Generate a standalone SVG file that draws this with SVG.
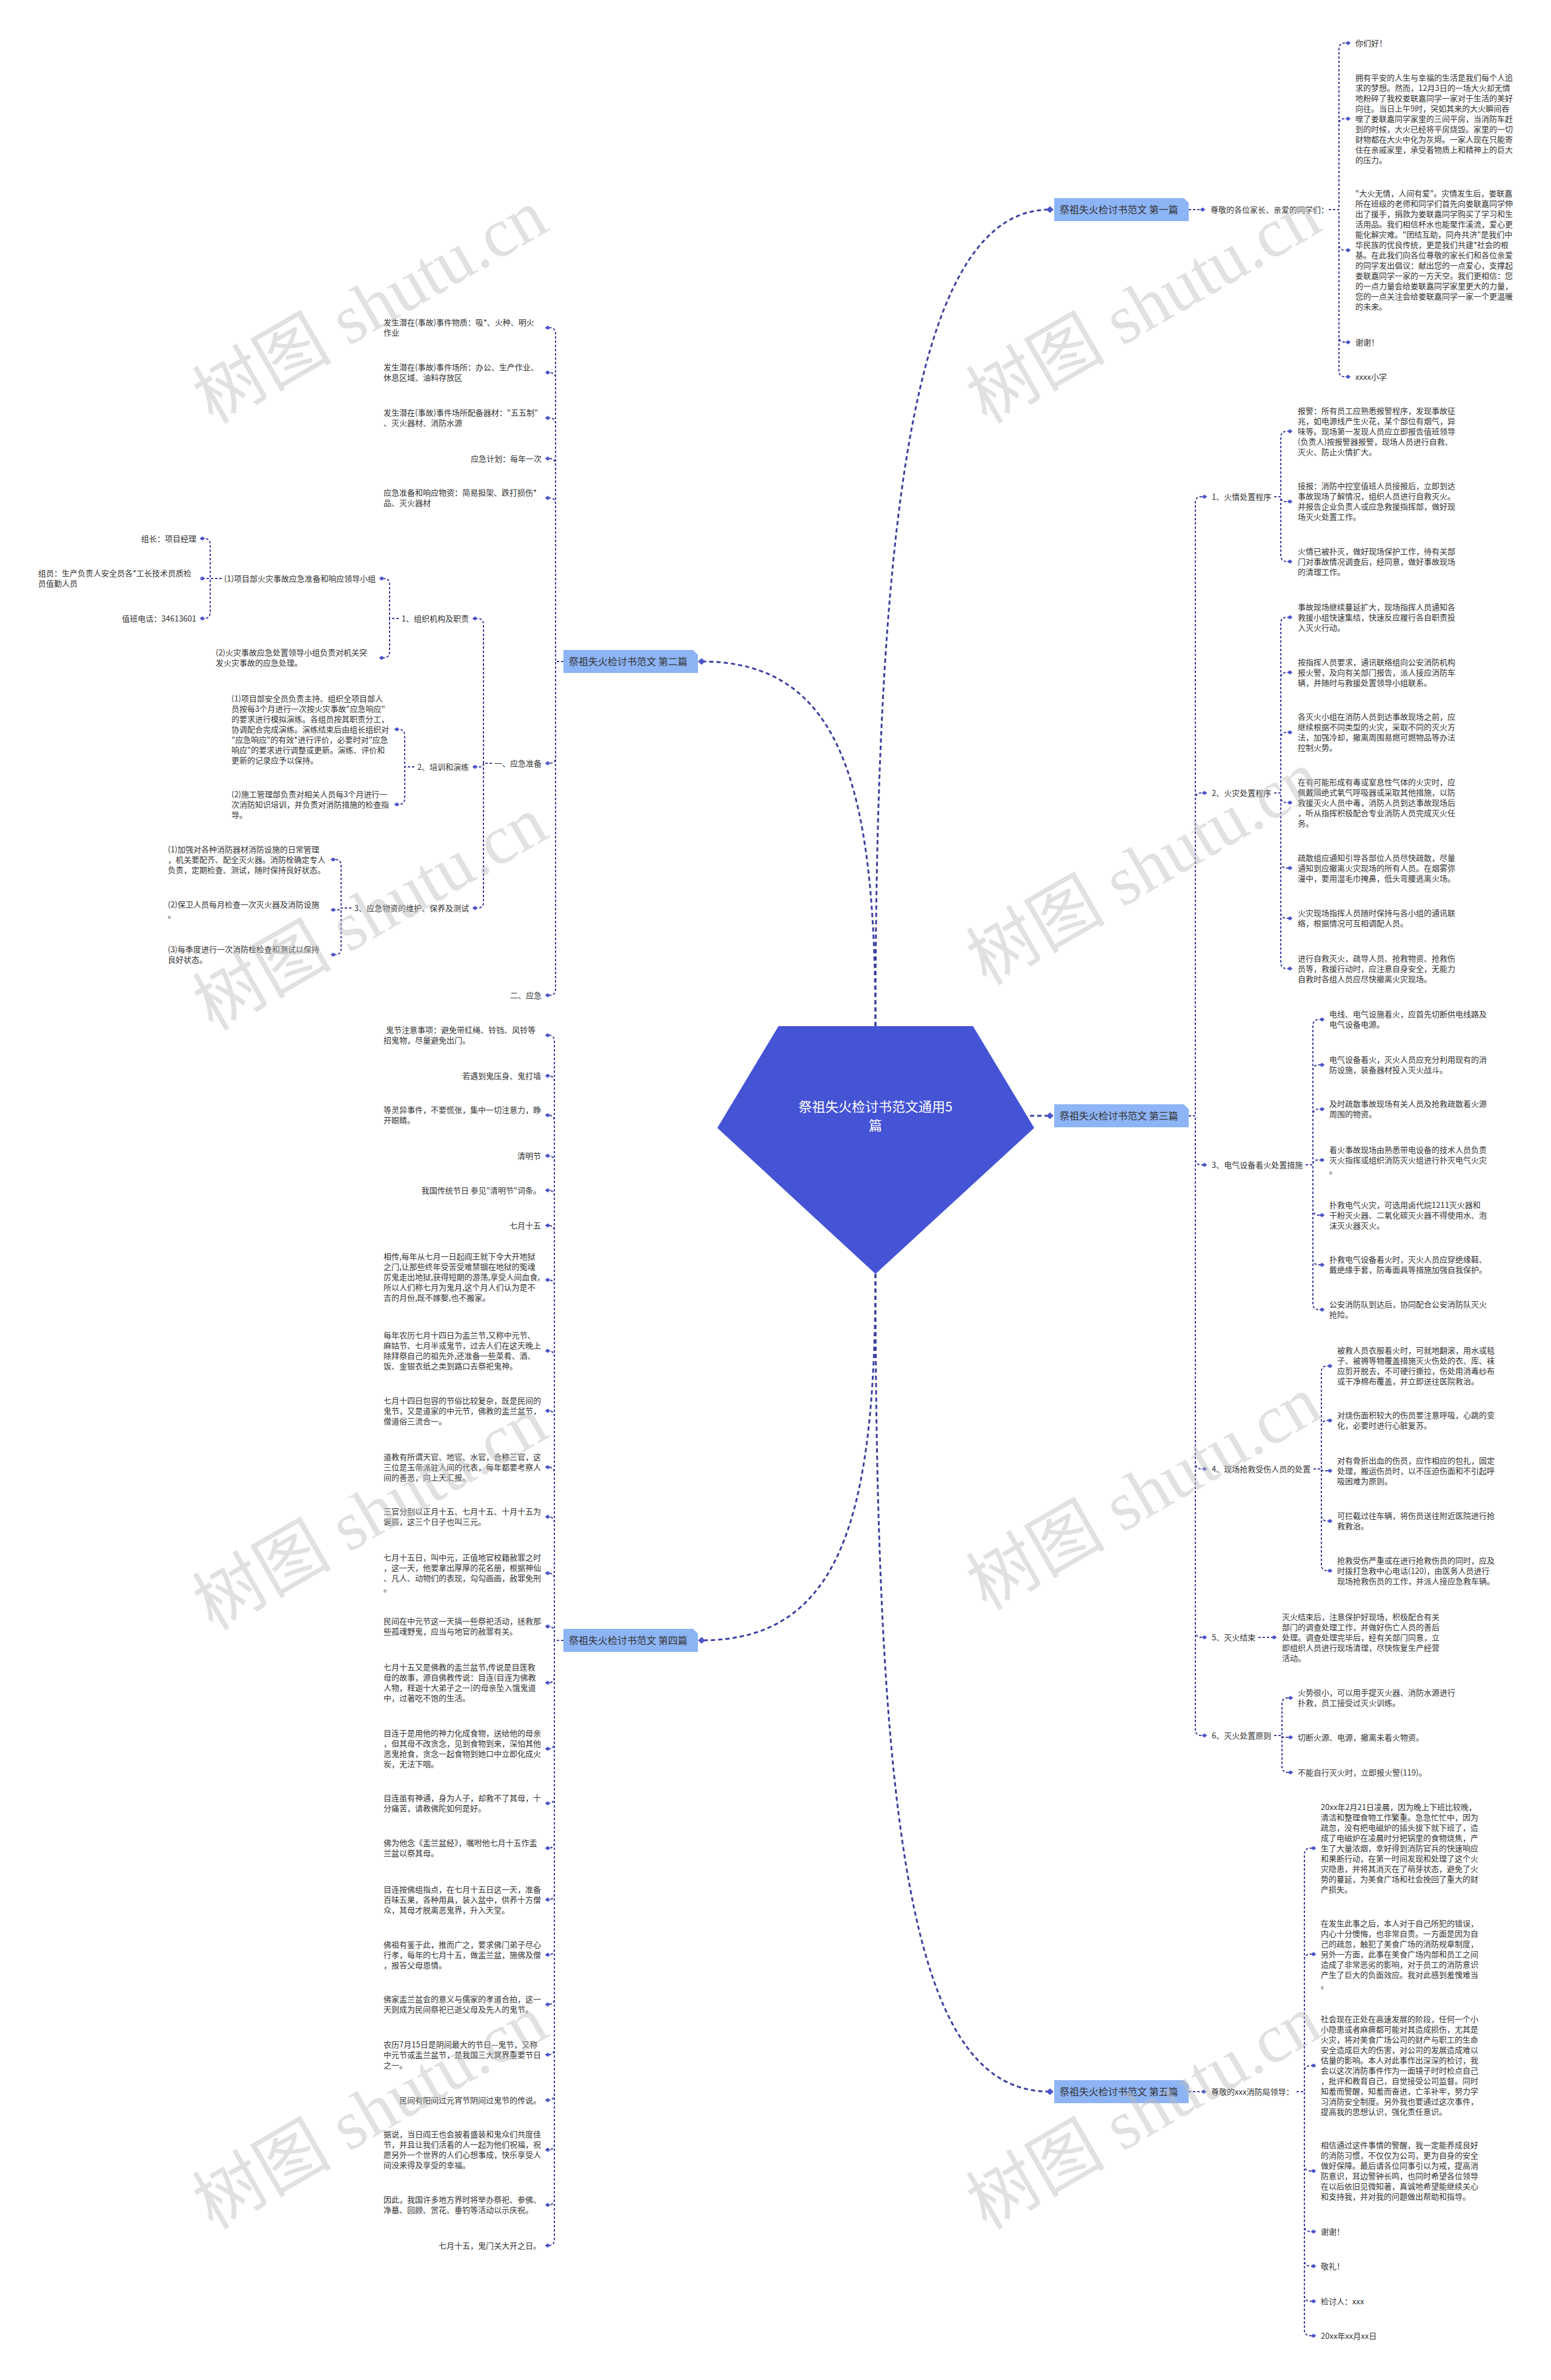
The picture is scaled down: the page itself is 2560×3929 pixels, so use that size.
<svg xmlns="http://www.w3.org/2000/svg" width="2560" height="3929" viewBox="0 0 2560 3929">
<defs>
<style>
.t{font-family:"Noto Sans CJK SC","Noto Sans",sans-serif;font-size:13px;fill:#333}
.e{text-anchor:end}
.n1{font-family:"Noto Sans CJK SC","Noto Sans",sans-serif;font-size:16px;fill:#333}
.nb{fill:#8db4f5}
.c{fill:none;stroke:#3b3f9f;stroke-width:2;stroke-dasharray:4 3;marker-end:url(#dm)}
.cm{fill:none;stroke:#3b3f9f;stroke-width:3;stroke-dasharray:7 5;marker-end:url(#dmL)}
.wm{font-family:"Liberation Serif","Noto Sans CJK SC",serif;font-size:115px;fill:#bdbdbd;opacity:0.45}
</style>
<marker id="dm" viewBox="-5 -4 10 8" markerWidth="10" markerHeight="8" refX="0" refY="0" orient="auto" markerUnits="userSpaceOnUse"><path d="M-4.5 0L0 -3.5L4.5 0L0 3.5Z" fill="#4c54c9"/></marker>
<marker id="dmL" viewBox="-7 -6 14 12" markerWidth="14" markerHeight="12" refX="0" refY="0" orient="auto" markerUnits="userSpaceOnUse"><path d="M-6 0L0 -5.5L6 0L0 5.5Z" fill="#4c54c9"/></marker>
</defs>
<rect width="2560" height="3929" fill="#fff"/>

<g id="connectors">
<path class="cm" d="M1445 1694C1445 800 1520 346 1733 346"/>
<path class="cm" d="M1445 1694C1445 1300 1390 1092 1158 1092"/>
<path class="cm" d="M1700 1842H1733"/>
<path class="cm" d="M1445 2103C1445 2500 1390 2708 1158 2708"/>
<path class="cm" d="M1445 2103C1445 3100 1520 3453 1733 3453"/>

<path class="c" d="M1962 346H1985"/>
<path class="c" d="M2193 346H2210V81Q2210 71 2220 71H2225"/>
<path class="c" d="M2193 346H2210V206Q2210 196 2220 196H2225"/>
<path class="c" d="M2193 346H2210V403Q2210 413 2220 413H2225"/>
<path class="c" d="M2193 346H2210V555Q2210 565 2220 565H2225"/>
<path class="c" d="M2193 346H2210V612Q2210 622 2220 622H2225"/>

<path class="c" d="M1962 1842H1973V830Q1973 820 1983 820H1988"/>
<path class="c" d="M1962 1842H1973V1319Q1973 1309 1983 1309H1988"/>
<path class="c" d="M1962 1842H1973V1913Q1973 1923 1983 1923H1988"/>
<path class="c" d="M1962 1842H1973V2415Q1973 2425 1983 2425H1988"/>
<path class="c" d="M1962 1842H1973V2693Q1973 2703 1983 2703H1988"/>
<path class="c" d="M1962 1842H1973V2855Q1973 2865 1983 2865H1988"/>

<path class="c" d="M2103 820H2114V722Q2114 712 2124 712H2129"/>
<path class="c" d="M2103 820H2114Q2114 828 2122 828H2129"/>
<path class="c" d="M2103 820H2114V917Q2114 927 2124 927H2129"/>

<path class="c" d="M2103 1309H2114V1029Q2114 1019 2124 1019H2129"/>
<path class="c" d="M2103 1309H2114V1120Q2114 1110 2124 1110H2129"/>
<path class="c" d="M2103 1309H2114V1219Q2114 1209 2124 1209H2129"/>
<path class="c" d="M2103 1309H2114V1315Q2114 1325 2124 1325H2129"/>
<path class="c" d="M2103 1309H2114V1423Q2114 1433 2124 1433H2129"/>
<path class="c" d="M2103 1309H2114V1506Q2114 1516 2124 1516H2129"/>
<path class="c" d="M2103 1309H2114V1589Q2114 1599 2124 1599H2129"/>

<path class="c" d="M2155 1923H2167V1693Q2167 1683 2177 1683H2182"/>
<path class="c" d="M2155 1923H2167V1768Q2167 1758 2177 1758H2182"/>
<path class="c" d="M2155 1923H2167V1841Q2167 1831 2177 1831H2182"/>
<path class="c" d="M2155 1923H2167Q2167 1915 2175 1915H2182"/>
<path class="c" d="M2155 1923H2167V1996Q2167 2006 2177 2006H2182"/>
<path class="c" d="M2155 1923H2167V2078Q2167 2088 2177 2088H2182"/>
<path class="c" d="M2155 1923H2167V2152Q2167 2162 2177 2162H2182"/>

<path class="c" d="M2168 2425H2181V2265Q2181 2255 2191 2255H2195"/>
<path class="c" d="M2168 2425H2181V2355Q2181 2345 2191 2345H2195"/>
<path class="c" d="M2168 2425H2181Q2181 2428 2184 2428H2195"/>
<path class="c" d="M2168 2425H2181V2501Q2181 2511 2191 2511H2195"/>
<path class="c" d="M2168 2425H2181V2583Q2181 2593 2191 2593H2195"/>

<path class="c" d="M2077 2703H2103"/>

<path class="c" d="M2103 2865H2116V2813Q2116 2803 2126 2803H2130"/>
<path class="c" d="M2103 2865H2116Q2116 2868 2119 2868H2130"/>
<path class="c" d="M2103 2865H2116V2916Q2116 2926 2126 2926H2130"/>

<path class="c" d="M1962 3453H1987"/>
<path class="c" d="M2140 3453H2153V3061Q2153 3051 2163 3051H2168"/>
<path class="c" d="M2140 3453H2153V3236Q2153 3226 2163 3226H2168"/>
<path class="c" d="M2140 3453H2153V3420Q2153 3410 2163 3410H2168"/>
<path class="c" d="M2140 3453H2153V3574Q2153 3584 2163 3584H2168"/>
<path class="c" d="M2140 3453H2153V3674Q2153 3684 2163 3684H2168"/>
<path class="c" d="M2140 3453H2153V3731Q2153 3741 2163 3741H2168"/>
<path class="c" d="M2140 3453H2153V3789Q2153 3799 2163 3799H2168"/>
<path class="c" d="M2140 3453H2153V3846Q2153 3856 2163 3856H2168"/>

<path class="c" d="M930 1092H917V551Q917 541 907 541H904"/>
<path class="c" d="M930 1092H917V625Q917 615 907 615H904"/>
<path class="c" d="M930 1092H917V700Q917 690 907 690H904"/>
<path class="c" d="M930 1092H917V767Q917 757 907 757H904"/>
<path class="c" d="M930 1092H917V832Q917 822 907 822H904"/>
<path class="c" d="M930 1092H917V1250Q917 1260 907 1260H904"/>
<path class="c" d="M930 1092H917V1633Q917 1643 907 1643H904"/>

<path class="c" d="M812 1260H798V1031Q798 1021 788 1021H784"/>
<path class="c" d="M812 1260H798Q798 1266 792 1266H784"/>
<path class="c" d="M812 1260H798V1489Q798 1499 788 1499H784"/>

<path class="c" d="M658 1021H643V965Q643 955 633 955H630"/>
<path class="c" d="M658 1021H643V1076Q643 1086 633 1086H630"/>

<path class="c" d="M366 955H347V899Q347 889 337 889H334"/>
<path class="c" d="M366 955H334"/>
<path class="c" d="M366 955H347V1011Q347 1021 337 1021H334"/>

<path class="c" d="M684 1266H668V1214Q668 1204 658 1204H655"/>
<path class="c" d="M684 1266H668V1318Q668 1328 658 1328H655"/>

<path class="c" d="M580 1499H563V1429Q563 1419 553 1419H550"/>
<path class="c" d="M580 1499H563Q563 1502 560 1502H550"/>
<path class="c" d="M580 1499H563V1566Q563 1576 553 1576H550"/>

<path class="c" d="M930 2708H915V1719Q915 1709 905 1709H904"/>
<path class="c" d="M930 2708H915V1786Q915 1776 905 1776H904"/>
<path class="c" d="M930 2708H915V1851Q915 1841 905 1841H904"/>
<path class="c" d="M930 2708H915V1918Q915 1908 905 1908H904"/>
<path class="c" d="M930 2708H915V1975Q915 1965 905 1965H904"/>
<path class="c" d="M930 2708H915V2033Q915 2023 905 2023H904"/>
<path class="c" d="M930 2708H915V2123Q915 2113 905 2113H904"/>
<path class="c" d="M930 2708H915V2240Q915 2230 905 2230H904"/>
<path class="c" d="M930 2708H915V2339Q915 2329 905 2329H904"/>
<path class="c" d="M930 2708H915V2432Q915 2422 905 2422H904"/>
<path class="c" d="M930 2708H915V2514Q915 2504 905 2504H904"/>
<path class="c" d="M930 2708H915V2607Q915 2597 905 2597H904"/>
<path class="c" d="M930 2708H915V2695Q915 2685 905 2685H904"/>
<path class="c" d="M930 2708H915V2768Q915 2778 905 2778H904"/>
<path class="c" d="M930 2708H915V2877Q915 2887 905 2887H904"/>
<path class="c" d="M930 2708H915V2967Q915 2977 905 2977H904"/>
<path class="c" d="M930 2708H915V3041Q915 3051 905 3051H904"/>
<path class="c" d="M930 2708H915V3126Q915 3136 905 3136H904"/>
<path class="c" d="M930 2708H915V3217Q915 3227 905 3227H904"/>
<path class="c" d="M930 2708H915V3299Q915 3309 905 3309H904"/>
<path class="c" d="M930 2708H915V3382Q915 3392 905 3392H904"/>
<path class="c" d="M930 2708H915V3457Q915 3467 905 3467H904"/>
<path class="c" d="M930 2708H915V3539Q915 3549 905 3549H904"/>
<path class="c" d="M930 2708H915V3630Q915 3640 905 3640H904"/>
<path class="c" d="M930 2708H915V3697Q915 3707 905 3707H904"/>
</g>

<g id="root">
<path d="M1285 1694H1606L1707 1862L1445 2103L1184 1862Z" fill="#4553d5"/>
<text x="1445" font-family="Noto Sans CJK SC,Noto Sans,sans-serif" font-size="22" fill="#fff" text-anchor="middle"><tspan x="1445" y="1835">祭祖失火检讨书范文通用5</tspan><tspan x="1445" y="1866">篇</tspan></text>
</g>

<g id="p1">
<path class="nb" d="M1740 327H1954L1962 335V365H1740Z"/>
<text class="n1" x="1749" y="351.5">祭祖失火检讨书范文 第一篇</text>
</g>
<g id="p1-a"><text class="t" x="1998" y="350.5">尊敬的各位家长、亲爱的同学们：</text></g>
<g id="p1-a1"><text class="t" x="2237" y="75.5">你们好！</text></g>
<g id="p1-a2"><text class="t" x="2237" y="132.5"><tspan x="2237">拥有平安的人生与幸福的生活是我们每个人追</tspan><tspan x="2237" dy="17">求的梦想。然而，12月3日的一场大火却无情</tspan><tspan x="2237" dy="17">地粉碎了我校娄联嘉同学一家对于生活的美好</tspan><tspan x="2237" dy="17">向往。当日上午9时，突如其来的大火瞬间吞</tspan><tspan x="2237" dy="17">噬了娄联嘉同学家里的三间平房，当消防车赶</tspan><tspan x="2237" dy="17">到的时候，大火已经将平房烧毁。家里的一切</tspan><tspan x="2237" dy="17">财物都在大火中化为灰烬。一家人现在只能寄</tspan><tspan x="2237" dy="17">住在亲戚家里，承受着物质上和精神上的巨大</tspan><tspan x="2237" dy="17">的压力。</tspan></text></g>
<g id="p1-a3"><text class="t" x="2237" y="324"><tspan x="2237">"大火无情，人间有爱"。灾情发生后，娄联嘉</tspan><tspan x="2237" dy="17">所在班级的老师和同学们首先向娄联嘉同学伸</tspan><tspan x="2237" dy="17">出了援手，捐款为娄联嘉同学购买了学习和生</tspan><tspan x="2237" dy="17">活用品。我们相信杯水也能聚作溪流，爱心更</tspan><tspan x="2237" dy="17">能化解灾难。"团结互助，同舟共济"是我们中</tspan><tspan x="2237" dy="17">华民族的优良传统，更是我们共建*社会的根</tspan><tspan x="2237" dy="17">基。在此我们向各位尊敬的家长们和各位亲爱</tspan><tspan x="2237" dy="17">的同学发出倡议：献出您的一点爱心，支撑起</tspan><tspan x="2237" dy="17">娄联嘉同学一家的一方天空。我们更相信：您</tspan><tspan x="2237" dy="17">的一点力量会给娄联嘉同学家里更大的力量，</tspan><tspan x="2237" dy="17">您的一点关注会给娄联嘉同学一家一个更温暖</tspan><tspan x="2237" dy="17">的未来。</tspan></text></g>
<g id="p1-a4"><text class="t" x="2237" y="569.5">谢谢！</text></g>
<g id="p1-a5"><text class="t" x="2237" y="626.5">xxxx小学</text></g>

<g id="p3">
<path class="nb" d="M1740 1823H1954L1962 1831V1861H1740Z"/>
<text class="n1" x="1749" y="1847.5">祭祖失火检讨书范文 第三篇</text>
</g>
<g id="p3-1"><text class="t" x="2000" y="824.5">1、火情处置程序</text></g>
<g id="p3-1a"><text class="t" x="2142" y="682.5"><tspan x="2142">报警：所有员工应熟悉报警程序，发现事故征</tspan><tspan x="2142" dy="17">兆，如电源线产生火花，某个部位有烟气，异</tspan><tspan x="2142" dy="17">味等。现场第一发现人员应立即报告值班领导</tspan><tspan x="2142" dy="17">(负责人)按报警器报警，现场人员进行自救、</tspan><tspan x="2142" dy="17">灭火、防止火情扩大。</tspan></text></g>
<g id="p3-1b"><text class="t" x="2142" y="807"><tspan x="2142">接报：消防中控室值班人员接报后，立即到达</tspan><tspan x="2142" dy="17">事故现场了解情况，组织人员进行自救灭火。</tspan><tspan x="2142" dy="17">并报告企业负责人或应急救援指挥部，做好现</tspan><tspan x="2142" dy="17">场灭火处置工作。</tspan></text></g>
<g id="p3-1c"><text class="t" x="2142" y="914.5"><tspan x="2142">火情已被扑灭，做好现场保护工作，待有关部</tspan><tspan x="2142" dy="17">门对事故情况调查后，经同意，做好事故现场</tspan><tspan x="2142" dy="17">的清理工作。</tspan></text></g>

<g id="p3-2"><text class="t" x="2000" y="1313.5">2、火灾处置程序</text></g>
<g id="p3-2a"><text class="t" x="2142" y="1006.5"><tspan x="2142">事故现场继续蔓延扩大，现场指挥人员通知各</tspan><tspan x="2142" dy="17">救援小组快速集结，快速反应履行各自职责投</tspan><tspan x="2142" dy="17">入灭火行动。</tspan></text></g>
<g id="p3-2b"><text class="t" x="2142" y="1097.5"><tspan x="2142">按指挥人员要求，通讯联络组向公安消防机构</tspan><tspan x="2142" dy="17">报火警，及向有关部门报告，派人接应消防车</tspan><tspan x="2142" dy="17">辆，并随时与救援处置领导小组联系。</tspan></text></g>
<g id="p3-2c"><text class="t" x="2142" y="1188"><tspan x="2142">各灭火小组在消防人员到达事故现场之前，应</tspan><tspan x="2142" dy="17">继续根据不同类型的火灾，采取不同的灭火方</tspan><tspan x="2142" dy="17">法，加强冷却，撤离周围易燃可燃物品等办法</tspan><tspan x="2142" dy="17">控制火势。</tspan></text></g>
<g id="p3-2d"><text class="t" x="2142" y="1295.5"><tspan x="2142">在有可能形成有毒或窒息性气体的火灾时，应</tspan><tspan x="2142" dy="17">佩戴隔绝式氧气呼吸器或采取其他措施，以防</tspan><tspan x="2142" dy="17">救援灭火人员中毒，消防人员到达事故现场后</tspan><tspan x="2142" dy="17">，听从指挥积极配合专业消防人员完成灭火任</tspan><tspan x="2142" dy="17">务。</tspan></text></g>
<g id="p3-2e"><text class="t" x="2142" y="1420.5"><tspan x="2142">疏散组应通知引导各部位人员尽快疏散，尽量</tspan><tspan x="2142" dy="17">通知到应撤离火灾现场的所有人员。在烟雾弥</tspan><tspan x="2142" dy="17">漫中，要用湿毛巾掩鼻，低头弯腰逃离火场。</tspan></text></g>
<g id="p3-2f"><text class="t" x="2142" y="1512"><tspan x="2142">火灾现场指挥人员随时保持与各小组的通讯联</tspan><tspan x="2142" dy="17">络，根据情况可互相调配人员。</tspan></text></g>
<g id="p3-2g"><text class="t" x="2142" y="1586.5"><tspan x="2142">进行自救灭火，疏导人员、抢救物资、抢救伤</tspan><tspan x="2142" dy="17">员等，救援行动时，应注意自身安全，无能力</tspan><tspan x="2142" dy="17">自救时各组人员应尽快撤离火灾现场。</tspan></text></g>

<g id="p3-3"><text class="t" x="2000" y="1927.5">3、电气设备着火处置措施</text></g>
<g id="p3-3a"><text class="t" x="2194" y="1679"><tspan x="2194">电线、电气设施着火，应首先切断供电线路及</tspan><tspan x="2194" dy="17">电气设备电源。</tspan></text></g>
<g id="p3-3b"><text class="t" x="2194" y="1754"><tspan x="2194">电气设备着火，灭火人员应充分利用现有的消</tspan><tspan x="2194" dy="17">防设施，装备器材投入灭火战斗。</tspan></text></g>
<g id="p3-3c"><text class="t" x="2194" y="1827"><tspan x="2194">及时疏散事故现场有关人员及抢救疏散着火源</tspan><tspan x="2194" dy="17">周围的物资。</tspan></text></g>
<g id="p3-3d"><text class="t" x="2194" y="1902.5"><tspan x="2194">着火事故现场由熟悉带电设备的技术人员负责</tspan><tspan x="2194" dy="17">灭火指挥或组织消防灭火组进行扑灭电气火灾</tspan><tspan x="2194" dy="17">。</tspan></text></g>
<g id="p3-3e"><text class="t" x="2194" y="1993.5"><tspan x="2194">扑救电气火灾，可选用卤代烷1211灭火器和</tspan><tspan x="2194" dy="17">干粉灭火器、二氧化碳灭火器不得使用水、泡</tspan><tspan x="2194" dy="17">沫灭火器灭火。</tspan></text></g>
<g id="p3-3f"><text class="t" x="2194" y="2084"><tspan x="2194">扑救电气设备着火时，灭火人员应穿绝缘鞋、</tspan><tspan x="2194" dy="17">戴绝缘手套，防毒面具等措施加强自我保护。</tspan></text></g>
<g id="p3-3g"><text class="t" x="2194" y="2158"><tspan x="2194">公安消防队到达后，协同配合公安消防队灭火</tspan><tspan x="2194" dy="17">抢险。</tspan></text></g>

<g id="p3-4"><text class="t" x="2000" y="2429.5">4、现场抢救受伤人员的处置</text></g>
<g id="p3-4a"><text class="t" x="2207" y="2234"><tspan x="2207">被救人员衣服着火时，可就地翻滚，用水或毯</tspan><tspan x="2207" dy="17">子、被褥等物覆盖措施灭火伤处的衣、库、袜</tspan><tspan x="2207" dy="17">应剪开脱去，不可硬行撕拉，伤处用消毒纱布</tspan><tspan x="2207" dy="17">或干净棉布覆盖，并立即送往医院救治。</tspan></text></g>
<g id="p3-4b"><text class="t" x="2207" y="2341"><tspan x="2207">对烧伤面积较大的伤员要注意呼吸，心跳的变</tspan><tspan x="2207" dy="17">化，必要时进行心脏复苏。</tspan></text></g>
<g id="p3-4c"><text class="t" x="2207" y="2415.5"><tspan x="2207">对有骨折出血的伤员，应作相应的包扎，固定</tspan><tspan x="2207" dy="17">处理，搬运伤员时，以不压迫伤面和不引起呼</tspan><tspan x="2207" dy="17">吸困难为原则。</tspan></text></g>
<g id="p3-4d"><text class="t" x="2207" y="2507"><tspan x="2207">可拦截过往车辆，将伤员送往附近医院进行抢</tspan><tspan x="2207" dy="17">救救治。</tspan></text></g>
<g id="p3-4e"><text class="t" x="2207" y="2580.5"><tspan x="2207">抢救受伤严重或在进行抢救伤员的同时，应及</tspan><tspan x="2207" dy="17">时拨打急救中心电话(120)，由医务人员进行</tspan><tspan x="2207" dy="17">现场抢救伤员的工作，并派人接应急救车辆。</tspan></text></g>

<g id="p3-5"><text class="t" x="2000" y="2707.5">5、灭火结束</text></g>
<g id="p3-5a"><text class="t" x="2116" y="2673.5"><tspan x="2116">灭火结束后，注意保护好现场，积极配合有关</tspan><tspan x="2116" dy="17">部门的调查处理工作，并做好伤亡人员的善后</tspan><tspan x="2116" dy="17">处理。调查处理完毕后，经有关部门同意，立</tspan><tspan x="2116" dy="17">即组织人员进行现场清理，尽快恢复生产经营</tspan><tspan x="2116" dy="17">活动。</tspan></text></g>

<g id="p3-6"><text class="t" x="2000" y="2869.5">6、灭火处置原则</text></g>
<g id="p3-6a"><text class="t" x="2142" y="2799"><tspan x="2142">火势很小，可以用手提灭火器、消防水源进行</tspan><tspan x="2142" dy="17">扑救，员工接受过灭火训练。</tspan></text></g>
<g id="p3-6b"><text class="t" x="2142" y="2872.5">切断火源、电源，撤离未着火物资。</text></g>
<g id="p3-6c"><text class="t" x="2142" y="2930.5">不能自行灭火时，立即报火警(119)。</text></g>

<g id="p5">
<path class="nb" d="M1740 3434H1954L1962 3442V3472H1740Z"/>
<text class="n1" x="1749" y="3458.5">祭祖失火检讨书范文 第五篇</text>
</g>
<g id="p5-a"><text class="t" x="1999" y="3457.5">尊敬的xxx消防局领导：</text></g>
<g id="p5-a1"><text class="t" x="2180" y="2987.5"><tspan x="2180">20xx年2月21日凌晨，因为晚上下班比较晚，</tspan><tspan x="2180" dy="17">清洁和整理食物工作繁重。急急忙忙中，因为</tspan><tspan x="2180" dy="17">疏忽，没有把电磁炉的插头拔下就下班了，造</tspan><tspan x="2180" dy="17">成了电磁炉在凌晨时分把锅里的食物烧焦，产</tspan><tspan x="2180" dy="17">生了大量浓烟，幸好得到消防官兵的快速响应</tspan><tspan x="2180" dy="17">和果断行动，在第一时间发现和处理了这个火</tspan><tspan x="2180" dy="17">灾隐患，并将其消灭在了萌芽状态，避免了火</tspan><tspan x="2180" dy="17">势的蔓延，为美食广场和社会挽回了重大的财</tspan><tspan x="2180" dy="17">产损失。</tspan></text></g>
<g id="p5-a2"><text class="t" x="2180" y="3179.5"><tspan x="2180">在发生此事之后，本人对于自己所犯的错误，</tspan><tspan x="2180" dy="17">内心十分懊悔，也非常自责。一方面是因为自</tspan><tspan x="2180" dy="17">己的疏忽，触犯了美食广场的消防规章制度，</tspan><tspan x="2180" dy="17">另外一方面，此事在美食广场内部和员工之间</tspan><tspan x="2180" dy="17">造成了非常恶劣的影响，对于员工的消防意识</tspan><tspan x="2180" dy="17">产生了巨大的负面效应。我对此感到羞愧难当</tspan><tspan x="2180" dy="17">。</tspan></text></g>
<g id="p5-a3"><text class="t" x="2180" y="3338"><tspan x="2180">社会现在正处在高速发展的阶段，任何一个小</tspan><tspan x="2180" dy="17">小隐患或者麻痹都可能对其造成损伤，尤其是</tspan><tspan x="2180" dy="17">火灾，将对美食广场公司的财产与职工的生命</tspan><tspan x="2180" dy="17">安全造成巨大的伤害，对公司的发展造成难以</tspan><tspan x="2180" dy="17">估量的影响。本人对此事作出深深的检讨，我</tspan><tspan x="2180" dy="17">会以这次消防事件作为一面镜子时时检点自己</tspan><tspan x="2180" dy="17">，批评和教育自己，自觉接受公司监督。同时</tspan><tspan x="2180" dy="17">知羞而警醒，知羞而奋进，亡羊补牢，努力学</tspan><tspan x="2180" dy="17">习消防安全制度。另外我也要通过这次事件，</tspan><tspan x="2180" dy="17">提高我的思想认识，强化责任意识。</tspan></text></g>
<g id="p5-a4"><text class="t" x="2180" y="3546"><tspan x="2180">相信通过这件事情的警醒，我一定能养成良好</tspan><tspan x="2180" dy="17">的消防习惯，不仅仅为公司，更为自身的安全</tspan><tspan x="2180" dy="17">做好保障。最后请各位同事引以为戒，提高消</tspan><tspan x="2180" dy="17">防意识，耳边警钟长鸣，也同时希望各位领导</tspan><tspan x="2180" dy="17">在以后依旧见微知著，真诚地希望能继续关心</tspan><tspan x="2180" dy="17">和支持我，并对我的问题做出帮助和指导。</tspan></text></g>
<g id="p5-a5"><text class="t" x="2180" y="3688.5">谢谢！</text></g>
<g id="p5-a6"><text class="t" x="2180" y="3745.5">敬礼！</text></g>
<g id="p5-a7"><text class="t" x="2180" y="3803.5">检讨人：xxx</text></g>
<g id="p5-a8"><text class="t" x="2180" y="3860.5">20xx年xx月xx日</text></g>

<g id="p2">
<path class="nb" d="M930 1073H1144L1152 1081V1111H930Z"/>
<text class="n1" x="939" y="1097.5">祭祖失火检讨书范文 第二篇</text>
</g>
<g id="p2-1"><text class="t" x="633" y="537"><tspan x="633">发生潜在(事故)事件物质：吸*、火种、明火</tspan><tspan x="633" dy="17">作业</tspan></text></g>
<g id="p2-2"><text class="t" x="633" y="611"><tspan x="633">发生潜在(事故)事件场所：办公、生产作业、</tspan><tspan x="633" dy="17">休息区域、油料存放区</tspan></text></g>
<g id="p2-3"><text class="t" x="633" y="686"><tspan x="633">发生潜在(事故)事件场所配备器材："五五制"</tspan><tspan x="633" dy="17">、灭火器材、消防水源</tspan></text></g>
<g id="p2-4"><text class="t e" x="894" y="761.5">应急计划：每年一次</text></g>
<g id="p2-5"><text class="t" x="633" y="818"><tspan x="633">应急准备和响应物资：简易担架、跌打损伤*</tspan><tspan x="633" dy="17">品、灭火器材</tspan></text></g>
<g id="p2-6"><text class="t e" x="894" y="1264.5">一、应急准备</text></g>
<g id="p2-6-1"><text class="t e" x="774" y="1025.5">1、组织机构及职责</text></g>
<g id="p2-6-1-1"><text class="t e" x="620" y="959.5">(1)项目部火灾事故应急准备和响应领导小组</text></g>
<g id="p2-6-1-1a"><text class="t e" x="324" y="893.5">组长：项目经理</text></g>
<g id="p2-6-1-1b"><text class="t" x="63" y="951"><tspan x="63">组员：生产负责人安全员各*工长技术员质检</tspan><tspan x="63" dy="17">员值勤人员</tspan></text></g>
<g id="p2-6-1-1c"><text class="t e" x="324" y="1025.5">值班电话：34613601</text></g>
<g id="p2-6-1-2"><text class="t" x="356" y="1082"><tspan x="356">(2)火灾事故应急处置领导小组负责对机关突</tspan><tspan x="356" dy="17">发火灾事故的应急处理。</tspan></text></g>
<g id="p2-6-2"><text class="t e" x="774" y="1270.5">2、培训和演练</text></g>
<g id="p2-6-2-1"><text class="t" x="382" y="1157.5"><tspan x="382">(1)项目部安全员负责主持、组织全项目部人</tspan><tspan x="382" dy="17">员按每3个月进行一次按火灾事故"应急响应"</tspan><tspan x="382" dy="17">的要求进行模拟演练。各组员按其职责分工，</tspan><tspan x="382" dy="17">协调配合完成演练。演练结束后由组长组织对</tspan><tspan x="382" dy="17">"应急响应"的有效*进行评价，必要时对"应急</tspan><tspan x="382" dy="17">响应"的要求进行调整或更新。演练、评价和</tspan><tspan x="382" dy="17">更新的记录应予以保持。</tspan></text></g>
<g id="p2-6-2-2"><text class="t" x="382" y="1315.5"><tspan x="382">(2)施工管理部负责对相关人员每3个月进行一</tspan><tspan x="382" dy="17">次消防知识培训，并负责对消防措施的检查指</tspan><tspan x="382" dy="17">导。</tspan></text></g>
<g id="p2-6-3"><text class="t e" x="774" y="1503.5">3、应急物资的维护、保养及测试</text></g>
<g id="p2-6-3-1"><text class="t" x="277" y="1406.5"><tspan x="277">(1)加强对各种消防器材消防设施的日常管理</tspan><tspan x="277" dy="17">，机关要配齐、配全灭火器。消防栓确定专人</tspan><tspan x="277" dy="17">负责，定期检查、测试，随时保持良好状态。</tspan></text></g>
<g id="p2-6-3-2"><text class="t" x="277" y="1498"><tspan x="277">(2)保卫人员每月检查一次灭火器及消防设施</tspan><tspan x="277" dy="17">。</tspan></text></g>
<g id="p2-6-3-3"><text class="t" x="277" y="1572"><tspan x="277">(3)每季度进行一次消防栓检查和测试以保持</tspan><tspan x="277" dy="17">良好状态。</tspan></text></g>
<g id="p2-7"><text class="t e" x="894" y="1647.5">二、应急</text></g>

<g id="p4">
<path class="nb" d="M930 2689H1144L1152 2697V2727H930Z"/>
<text class="n1" x="939" y="2713.5">祭祖失火检讨书范文 第四篇</text>
</g>
<g id="p4-1"><text class="t" x="637" y="1705"><tspan x="637">鬼节注意事项：避免带红绳、铃铛、风铃等</tspan><tspan x="633" dy="17">招鬼物，尽量避免出门。</tspan></text></g>
<g id="p4-2"><text class="t e" x="893" y="1780.5">若遇到鬼压身、鬼打墙</text></g>
<g id="p4-3"><text class="t" x="633" y="1837"><tspan x="633">等灵异事件，不要慌张，集中一切注意力，睁</tspan><tspan x="633" dy="17">开眼睛。</tspan></text></g>
<g id="p4-4"><text class="t e" x="893" y="1912.5">清明节</text></g>
<g id="p4-5"><text class="t e" x="893" y="1969.5">我国传统节日 参见"清明节"词条。</text></g>
<g id="p4-6"><text class="t e" x="893" y="2027.5">七月十五</text></g>
<g id="p4-7"><text class="t" x="633" y="2079"><tspan x="633">相传,每年从七月一日起阎王就下令大开地狱</tspan><tspan x="633" dy="17">之门,让那些终年受苦受难禁锢在地狱的冤魂</tspan><tspan x="633" dy="17">厉鬼走出地狱,获得短期的游荡,享受人间血食,</tspan><tspan x="633" dy="17">所以人们称七月为鬼月,这个月人们认为是不</tspan><tspan x="633" dy="17">吉的月份,既不嫁娶,也不搬家。</tspan></text></g>
<g id="p4-8"><text class="t" x="633" y="2209"><tspan x="633">每年农历七月十四日为盂兰节,又称中元节、</tspan><tspan x="633" dy="17">麻姑节、七月半或鬼节，过去人们在这天晚上</tspan><tspan x="633" dy="17">除拜祭自己的祖先外,还准备一些菜肴、酒、</tspan><tspan x="633" dy="17">饭、金银衣纸之类到路口去祭祀鬼神。</tspan></text></g>
<g id="p4-9"><text class="t" x="633" y="2316.5"><tspan x="633">七月十四日包容的节俗比较复杂，既是民间的</tspan><tspan x="633" dy="17">鬼节，又是道家的中元节，佛教的盂兰盆节，</tspan><tspan x="633" dy="17">僧道俗三流合一。</tspan></text></g>
<g id="p4-10"><text class="t" x="633" y="2409.5"><tspan x="633">道教有所谓天官、地官、水官，合称三官，这</tspan><tspan x="633" dy="17">三位是玉帝派驻人间的代表，每年都要考察人</tspan><tspan x="633" dy="17">间的善恶，向上天汇报。</tspan></text></g>
<g id="p4-11"><text class="t" x="633" y="2500"><tspan x="633">三官分别以正月十五、七月十五、十月十五为</tspan><tspan x="633" dy="17">诞辰，这三个日子也叫三元。</tspan></text></g>
<g id="p4-12"><text class="t" x="633" y="2576"><tspan x="633">七月十五日，叫中元，正值地官校籍赦罪之时</tspan><tspan x="633" dy="17">，这一天，他要拿出厚厚的花名册，根据神仙</tspan><tspan x="633" dy="17">、凡人、动物们的表现，勾勾画画，赦罪免刑</tspan><tspan x="633" dy="17">。</tspan></text></g>
<g id="p4-13"><text class="t" x="633" y="2681"><tspan x="633">民间在中元节这一天搞一些祭祀活动，拯救那</tspan><tspan x="633" dy="17">些孤魂野鬼，应当与地官的赦罪有关。</tspan></text></g>
<g id="p4-14"><text class="t" x="633" y="2757"><tspan x="633">七月十五又是佛教的盂兰盆节,传说是目莲救</tspan><tspan x="633" dy="17">母的故事，源自佛教传说：目连(目连为佛教</tspan><tspan x="633" dy="17">人物，释迦十大弟子之一)的母亲坠入饿鬼道</tspan><tspan x="633" dy="17">中，过著吃不饱的生活。</tspan></text></g>
<g id="p4-15"><text class="t" x="633" y="2866"><tspan x="633">目连于是用他的神力化成食物，送给他的母亲</tspan><tspan x="633" dy="17">，但其母不改贪念，见到食物到来，深怕其他</tspan><tspan x="633" dy="17">恶鬼抢食，贪念一起食物到她口中立即化成火</tspan><tspan x="633" dy="17">炭，无法下咽。</tspan></text></g>
<g id="p4-16"><text class="t" x="633" y="2973"><tspan x="633">目连虽有神通，身为人子，却救不了其母，十</tspan><tspan x="633" dy="17">分痛苦，请教佛陀如何是好。</tspan></text></g>
<g id="p4-17"><text class="t" x="633" y="3047"><tspan x="633">佛为他念《盂兰盆经》，嘱咐他七月十五作盂</tspan><tspan x="633" dy="17">兰盆以祭其母。</tspan></text></g>
<g id="p4-18"><text class="t" x="633" y="3123.5"><tspan x="633">目连按佛组指点，在七月十五日这一天，准备</tspan><tspan x="633" dy="17">百味五果，各种用具，装入盆中，供养十方僧</tspan><tspan x="633" dy="17">众，其母才脱离恶鬼界，升入天堂。</tspan></text></g>
<g id="p4-19"><text class="t" x="633" y="3214.5"><tspan x="633">佛祖有鉴于此，推而广之，要求佛门弟子尽心</tspan><tspan x="633" dy="17">行孝，每年的七月十五，做盂兰盆，施佛及僧</tspan><tspan x="633" dy="17">，报答父母恩情。</tspan></text></g>
<g id="p4-20"><text class="t" x="633" y="3305"><tspan x="633">佛家盂兰盆会的意义与儒家的孝道合拍，这一</tspan><tspan x="633" dy="17">天则成为民间祭祀已逝父母及先人的鬼节。</tspan></text></g>
<g id="p4-21"><text class="t" x="633" y="3379.5"><tspan x="633">农历7月15日是阴间最大的节日—鬼节，又称</tspan><tspan x="633" dy="17">中元节或盂兰盆节，是我国三大冥界重要节日</tspan><tspan x="633" dy="17">之一。</tspan></text></g>
<g id="p4-22"><text class="t e" x="893" y="3471.5">民间有阳间过元宵节阴间过鬼节的传说。</text></g>
<g id="p4-23"><text class="t" x="633" y="3528"><tspan x="633">据说，当日阎王也会披着盛装和鬼众们共度佳</tspan><tspan x="633" dy="17">节，并且让我们活着的人一起为他们祝福，祝</tspan><tspan x="633" dy="17">愿另外一个世界的人们心想事成，快乐享受人</tspan><tspan x="633" dy="17">间没来得及享受的幸福。</tspan></text></g>
<g id="p4-24"><text class="t" x="633" y="3636"><tspan x="633">因此，我国许多地方界时将举办祭祀、参佛、</tspan><tspan x="633" dy="17">净墓、回顾、赏花、垂钓等活动以示庆祝。</tspan></text></g>
<g id="p4-25"><text class="t e" x="893" y="3711.5">七月十五，鬼门关大开之日。</text></g>

<g id="watermarks">
<text class="wm" x="351" y="701" transform="rotate(-30 351 701)">树图 shutu.cn</text>
<text class="wm" x="1628" y="701" transform="rotate(-30 1628 701)">树图 shutu.cn</text>
<text class="wm" x="351" y="1703" transform="rotate(-30 351 1703)">树图 shutu.cn</text>
<text class="wm" x="1628" y="1628" transform="rotate(-30 1628 1628)">树图 shutu.cn</text>
<text class="wm" x="351" y="2693" transform="rotate(-30 351 2693)">树图 shutu.cn</text>
<text class="wm" x="1628" y="2660" transform="rotate(-30 1628 2660)">树图 shutu.cn</text>
<text class="wm" x="351" y="3682" transform="rotate(-30 351 3682)">树图 shutu.cn</text>
<text class="wm" x="1628" y="3682" transform="rotate(-30 1628 3682)">树图 shutu.cn</text>
</g>
</svg>
